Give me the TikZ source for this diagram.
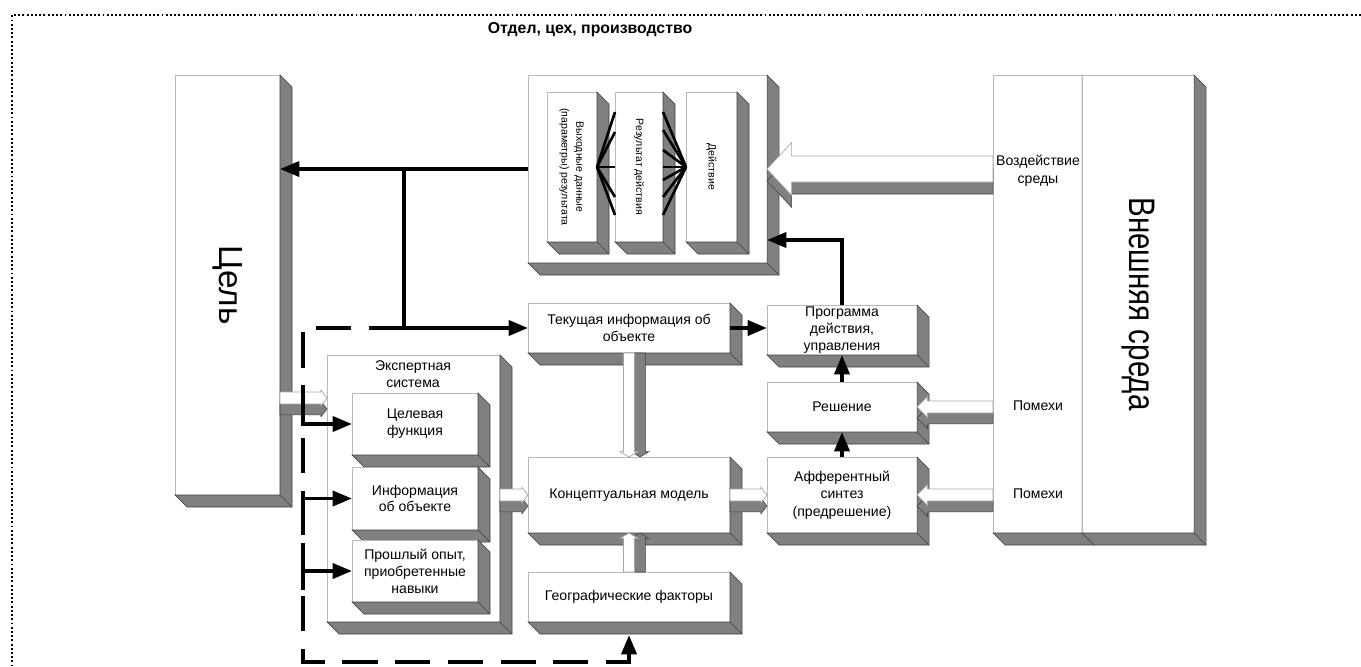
\documentclass[tikz,border=0pt]{standalone}
\usepackage{fontspec}
\setmainfont{Liberation Sans}
\usepackage{graphicx}
\usetikzlibrary{calc}
\usetikzlibrary{arrows.meta}

\definecolor{sidegray}{RGB}{128,128,128}

% grey extrusion to the right and below a box node
\newcommand\extrude[1]{%
  \filldraw[side] (#1.north east) -- ++(12,12) -- ($(#1.south east)+(12,12)$)
    -- ($(#1.south west)+(12,12)$) -- (#1.south west) -- (#1.south east) -- cycle;
  \draw[side] (#1.south east) -- ++(12,12);}

% white block arrow with grey extrusion: [shift]{from}{to}{half body}{half head}{head length}
\newcommand\blockarrow[6][(0,11)]{%
  \path (#2) coordinate (ha) (#3) coordinate (hb) ($(hb)!#6!(ha)$) coordinate (hc);
  \filldraw[side, transform canvas={shift={#1}}] ($(ha)!#4!90:(hb)$) -- ($(hc)!#4!90:(hb)$)
    -- ($(hc)!#5!90:(hb)$) -- (hb) -- ($(hc)!#5!-90:(hb)$) -- ($(hc)!#4!-90:(hb)$)
    -- ($(ha)!#4!-90:(hb)$) -- cycle;
  \filldraw[hollowface] ($(ha)!#4!90:(hb)$) -- ($(hc)!#4!90:(hb)$)
    -- ($(hc)!#5!90:(hb)$) -- (hb) -- ($(hc)!#5!-90:(hb)$) -- ($(hc)!#4!-90:(hb)$)
    -- ($(ha)!#4!-90:(hb)$) -- cycle;}

\begin{document}
\begin{tikzpicture}[x=0.02cm, y=-0.02cm,
    box/.style={draw=gray!55, fill=white, line width=0.4pt, inner sep=0pt, outer sep=0pt,
      align=center, font=\fontsize{8}{9.6}\selectfont},
    wh/.style 2 args={minimum width=#1*0.02cm, minimum height=#2*0.02cm},
    txt/.style={inner sep=0pt, align=center, font=\fontsize{8}{10}\selectfont},
    side/.style={fill=sidegray, draw=gray!50!black, line width=0.3pt},
    hollowface/.style={fill=white, draw=gray!70, line width=0.4pt},
    arr/.style={line width=2.2pt, -{Triangle[length=11pt,width=8.5pt]}},
    link/.style={line width=2.2pt},
    feedback/.style={line width=2.2pt, dash pattern=on 20pt off 10pt},
    foot/.style={line width=1.5pt},
    frame/.style={line width=1.1pt, dash pattern=on 1.1pt off 1.3pt}]
  \useasboundingbox (0,0) rectangle (1361,666);
  \draw[frame] (1361,15) -| (12,666);
  \node[font=\bfseries\fontsize{9}{11}\selectfont] (title) at (590,30) {Отдел, цех, производство};

  % goal
  \node[box, wh={105}{420}] (cel) at (227.5,285) {\rotatebox{-90}{\fontsize{19}{22}\selectfont Цель}};
  \extrude{cel}

  % action block
  \node[box, wh={239}{188}] (act) at (647.5,169) {};
  \extrude{act}
  \node[box, wh={50}{150}, font=\fontsize{6}{8.5}\selectfont] (out) at (572,167)
    {\rotatebox{-90}{\begin{tabular}{@{}c@{}}Выходные данные\\(параметры) результата\end{tabular}}};
  \extrude{out}
  \node[box, wh={48}{150}, font=\fontsize{6}{8.5}\selectfont] (res) at (639,167)
    {\rotatebox{-90}{Результат действия}};
  \extrude{res}
  \node[box, wh={51}{150}, font=\fontsize{6}{8.5}\selectfont] (dei) at (711.5,167)
    {\rotatebox{-90}{Действие}};
  \extrude{dei}
  \foreach \y in {112,132,167,197,215}
    \draw[foot] (out.east) -- (res.west |- 0,\y);
  \foreach \y in {112,130,150,167,180,197,215}
    \draw[foot] (dei.west) -- (res.east |- 0,\y);

  % middle column
  \node[box, wh={202}{50}] (cur) at (629,328) {Текущая информация об\\объекте};
  \extrude{cur}
  \node[box, wh={202}{76}] (con) at (629,495) {Концептуальная модель};
  \extrude{con}
  \node[box, wh={202}{50}] (geo) at (629,597) {Географические факторы};
  \extrude{geo}

  % decision column
  \node[box, wh={150}{50}] (prg) at (842,330) {Программа\\действия,\\управления};
  \extrude{prg}
  \node[box, wh={150}{50}] (dec) at (842,407) {Решение};
  \extrude{dec}
  \node[box, wh={150}{76}, font=\fontsize{8}{10}\selectfont] (aff) at (842,495)
    {Афферентный\\синтез\\(предрешение)};
  \extrude{aff}

  % expert system
  \node[box, wh={173}{267}] (exp) at (413.5,488.5) {};
  \extrude{exp}
  \node[txt] (exptitle) at (413,374) {Экспертная\\система};
  \node[box, wh={126}{62}] (goal) at (415,424) {Целевая\\функция};
  \extrude{goal}
  \node[box, wh={126}{63}] (info) at (415,498.5) {Информация\\об объекте};
  \extrude{info}
  \node[box, wh={126}{62}] (past) at (415,571) {Прошлый опыт,\\приобретенные\\навыки};
  \extrude{past}

  % environment
  \node[box, wh={89}{458}] (infl) at (1037.5,304) {};
  \extrude{infl}
  \node[box, wh={112}{458}] (env) at (1138,304)
    {\rotatebox{-90}{\fontsize{21}{24}\selectfont\scalebox{0.8}[1]{Внешняя среда}}};
  \extrude{env}
  \node[txt] (effect) at (1038,171) {Воздействие\\среды};
  \node[txt] (noise1) at (1038,406) {Помехи};
  \node[txt] (noise2) at (1038,494) {Помехи};

  % block arrows
  \blockarrow{$(cel.east |- goal.north)+(0,5)$}{$(exp.west |- goal.north)+(0,5)$}{3.4pt}{4.5pt}{3.5pt}
  \blockarrow{exp.east |- con.west}{con.west}{3.4pt}{4.5pt}{3.5pt}
  \blockarrow[(11,0)]{cur.south}{con.north}{3.1pt}{5pt}{3pt}
  \blockarrow[(11,0)]{geo.north}{con.south}{3.1pt}{5pt}{3pt}
  \blockarrow{con.east}{aff.west}{3.4pt}{4.5pt}{3.5pt}
  \blockarrow{infl.west |- dec.east}{dec.east}{3.4pt}{6pt}{6pt}
  \blockarrow{infl.west |- aff.east}{aff.east}{3.4pt}{6pt}{6pt}
  \blockarrow[(0,12)]{infl.west |- act.east}{act.east}{7.4pt}{15pt}{14pt}

  % links
  \coordinate (split) at ($(act.west)!0.5!(act.west -| cel.east)$);
  \draw[arr] (act.west) -- (act.west -| cel.east);
  \draw[link] (split) -- (split |- cur.west);
  \draw[arr] (split |- cur.west) -- (cur.west);
  \draw[feedback, -{Triangle[length=11pt,width=8.5pt]}] (split |- cur.west) -| (303,662)
    -| ($(geo.south)+(0,13)$);
  \coordinate (g1) at (303,393);
  \coordinate (g2) at (303,535);
  \coordinate (g3) at (303,557);
  \draw[arr] (g1) |- (goal.west);
  \draw[arr] (g2) |- (info.west);
  \draw[link] (g3) -- ++(0,33);
  \draw[arr] (g3 |- past.west) -- (past.west);
  \draw[arr] (cur.east) -- (cur.east -| prg.west);
  \draw[arr] (dec.north) -- (prg.south);
  \draw[arr] (aff.north) -- (dec.south);
  \draw[arr] (prg.north) |- ($(act.south east)+(0,-23)$);
\end{tikzpicture}
\end{document}
